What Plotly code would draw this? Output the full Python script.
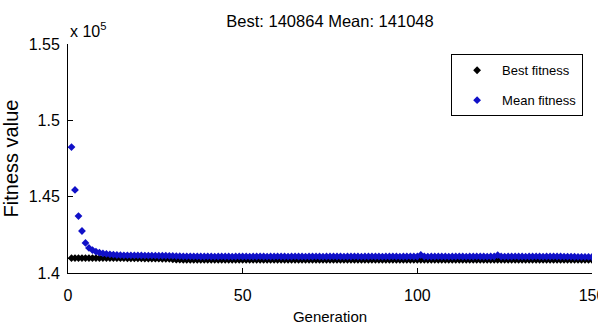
import plotly.graph_objects as go

generations = list(range(1, 151))

best_fitness = (
    [140980, 140980, 140980, 140980, 140980, 140980, 140980, 140980, 140980, 140980,
     140975, 140975, 140975, 140970, 140970, 140970, 140965, 140965, 140960, 140960,
     140955, 140950, 140950, 140945, 140940, 140940, 140935, 140930, 140930, 140900,
     140870, 140870, 140868, 140868, 140866, 140866, 140866, 140865, 140865, 140865]
    + [140864] * 110
)

mean_fitness = [
    148250, 145440, 143730, 142750, 141970, 141640, 141500, 141400, 141330, 141280,
    141250, 141220, 141200, 141180, 141170, 141160, 141160, 141150, 141150, 141150,
    141145, 141140, 141140, 141140, 141135, 141130, 141130, 141130, 141125, 141120,
    141110, 141100, 141095, 141090, 141090, 141085, 141085, 141080, 141080, 141085,
    141080, 141075, 141080, 141085, 141080, 141080, 141075, 141080, 141085, 141080,
    141080, 141075, 141080, 141080, 141085, 141080, 141075, 141080, 141080, 141085,
    141080, 141080, 141075, 141080, 141085, 141080, 141080, 141075, 141080, 141080,
    141085, 141080, 141075, 141080, 141080, 141085, 141080, 141080, 141075, 141080,
    141080, 141085, 141080, 141075, 141080, 141080, 141085, 141080, 141080, 141075,
    141080, 141080, 141085, 141080, 141075, 141080, 141080, 141085, 141080, 141080,
    141180, 141080, 141075, 141080, 141080, 141085, 141080, 141080, 141075, 141080,
    141080, 141085, 141080, 141075, 141080, 141080, 141085, 141080, 141080, 141075,
    141080, 141080, 141170, 141080, 141075, 141080, 141080, 141085, 141080, 141080,
    141075, 141080, 141080, 141085, 141080, 141075, 141080, 141080, 141085, 141080,
    141080, 141075, 141070, 141070, 141065, 141060, 141060, 141055, 141050, 141048,
]

scale = 1e5
x_ticks = [0, 50, 100, 150]
y_ticks = [1.40, 1.45, 1.50, 1.55]
y_tick_text = ["1.4", "1.45", "1.5", "1.55"]
title_text = "Best: 140864 Mean: 141048"

FONT = "Liberation Sans, Arial, sans-serif"

fig = go.Figure()
fig.add_trace(go.Scatter(
    x=generations, y=[v / scale for v in best_fitness], mode="markers",
    name="Best fitness", legendgroup="a",
    marker=dict(symbol="diamond", size=6, color="#000000", line=dict(width=0)),
))
fig.add_trace(go.Scatter(
    x=generations, y=[v / scale for v in mean_fitness], mode="markers",
    name="Mean fitness", legendgroup="b",
    marker=dict(symbol="diamond", size=6, color="#1010c8", line=dict(width=0)),
))

fig.update_layout(
    width=598, height=332,
    margin=dict(l=68, r=6, t=44, b=59),
    paper_bgcolor="white", plot_bgcolor="white",
    showlegend=True,
    legend=dict(
        x=0.983, y=0.955, xanchor="right", yanchor="top",
        bordercolor="black", borderwidth=1, bgcolor="white",
        font=dict(family=FONT, size=13, color="black"),
        tracegroupgap=10, itemwidth=40,
    ),
    title=dict(text=title_text, x=0.5, xref="paper", xanchor="center",
               y=1 - 21 / 332, yanchor="middle",
               font=dict(family=FONT, size=16.5, color="black")),
    xaxis=dict(
        range=[0, 150], tickvals=x_ticks, ticks="inside", ticklen=5,
        tickcolor="black", showline=True, linecolor="black", linewidth=1,
        showgrid=False, zeroline=False, mirror=False, automargin=False,
        tickfont=dict(family=FONT, size=16, color="black"),
        ticklabelstandoff=8, ticklabeloverflow="allow",
        title=dict(text="Generation", font=dict(family=FONT, size=15, color="black"), standoff=8),
    ),
    yaxis=dict(
        range=[1.40, 1.55], tickvals=y_ticks, ticktext=y_tick_text,
        ticks="inside", ticklen=5, tickcolor="black",
        showline=True, linecolor="black", linewidth=1,
        showgrid=False, zeroline=False, mirror=False, automargin=False,
        tickfont=dict(family=FONT, size=16, color="black"),
        ticklabelstandoff=4, ticklabeloverflow="allow",
        title=dict(text="Fitness value", font=dict(family=FONT, size=20, color="black"), standoff=16),
    ),
)

fig.add_annotation(
    text="x 10<sup>5</sup>", xref="paper", yref="paper", x=0.0, y=1.0,
    xanchor="left", yanchor="bottom", showarrow=False, xshift=0, yshift=2,
    font=dict(family=FONT, size=16, color="black"),
)

fig.write_html("out.html")
